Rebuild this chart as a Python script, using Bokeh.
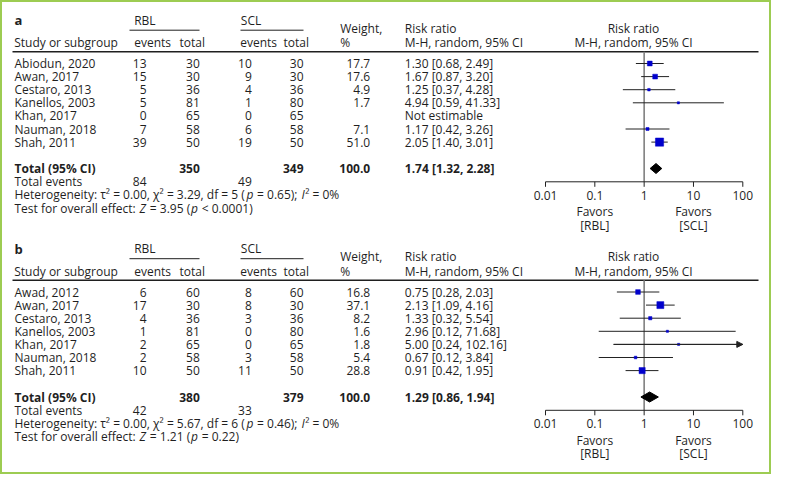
import math
from bokeh.plotting import figure
from bokeh.models import Range1d, LogScale, ColumnDataSource, Arrow, NormalHead
from bokeh.embed import file_html
from bokeh.resources import INLINE
from bokeh.core.properties import value

# ---------------- data ----------------
studies_a = ["Abiodun, 2020", "Awan, 2017", "Cestaro, 2013", "Kanellos, 2003",
             "Khan, 2017", "Nauman, 2018", "Shah, 2011"]
rbl_events_a = [13, 15, 5, 5, 0, 7, 39]
rbl_total_a = [30, 30, 36, 81, 65, 58, 50]
scl_events_a = [10, 9, 4, 1, 0, 6, 19]
scl_total_a = [30, 30, 36, 80, 65, 58, 50]
weight_a = [17.7, 17.6, 4.9, 1.7, None, 7.1, 51.0]
rr_a = [1.30, 1.67, 1.25, 4.94, None, 1.17, 2.05]
lo_a = [0.68, 0.87, 0.37, 0.59, None, 0.42, 1.40]
hi_a = [2.49, 3.20, 4.28, 41.33, None, 3.26, 3.01]
total_a = [350, 349, 100.0]
pooled_a = [1.74, 1.32, 2.28]
events_a = [84, 49]
het_a = ["0.00", "3.29", "5", "= 0.65", "0%"]
test_a = ["3.95", "< 0.0001"]

studies_b = ["Awad, 2012", "Awan, 2017", "Cestaro, 2013", "Kanellos, 2003",
             "Khan, 2017", "Nauman, 2018", "Shah, 2011"]
rbl_events_b = [6, 17, 4, 1, 2, 2, 10]
rbl_total_b = [60, 30, 36, 81, 65, 58, 50]
scl_events_b = [8, 8, 3, 0, 0, 3, 11]
scl_total_b = [60, 30, 36, 80, 65, 58, 50]
weight_b = [16.8, 37.1, 8.2, 1.6, 1.8, 5.4, 28.8]
rr_b = [0.75, 2.13, 1.33, 2.96, 5.00, 0.67, 0.91]
lo_b = [0.28, 1.09, 0.32, 0.12, 0.24, 0.12, 0.42]
hi_b = [2.03, 4.16, 5.54, 71.68, 102.16, 3.84, 1.95]
total_b = [380, 379, 100.0]
pooled_b = [1.29, 0.86, 1.94]
events_b = [42, 33]
het_b = ["0.00", "5.67", "6", "= 0.46", "0%"]
test_b = ["1.21", "= 0.22"]

tick_values = [0.01, 0.1, 1, 10, 100]
tick_labels = ["0.01", "0.1", "1", "10", "100"]

# ---------------- layout ----------------
W, H = 771, 474
FONT = "Open Sans"
FS = "12px"
FSN = 12.0
TXT = "#1f1f1f"
px_lo, px_hi = 553 - 8, 750.3 - 8          # pixel position of 0.01 and 100
dec = (px_hi - px_lo) / 4.0
log_start = -2 - px_lo / dec
log_end = 2 + (W - px_hi) / dec

p = figure(width=W, height=H, output_backend="svg", toolbar_location=None,
           x_range=Range1d(0, W), y_range=Range1d(H, 0),
           min_border=0, background_fill_color="white", border_fill_color="white")
p.extra_x_ranges = {"rr": Range1d(10 ** log_start, 10 ** log_end)}
p.extra_x_scales = {"rr": LogScale()}
p.xaxis.visible = False
p.yaxis.visible = False
p.grid.visible = False
p.outline_line_color = "#9dcc52"
p.outline_line_width = 3

# approximate Open Sans advance widths (units per em = 2048), used to chain text runs
REG_W = {' ': 532, '.': 545, ',': 502, ':': 545, ';': 545, '(': 602, ')': 602, '=': 1171,
         '<': 1171, '%': 1702, '\u00b2': 760, '\u03c4': 1060, '\u03c7': 1090, 'H': 1538,
         'T': 1122, 'Z': 1128, 'I': 559, 'a': 1139, 'c': 975, 'd': 1255, 'e': 1147, 'f': 700,
         'g': 1108, 'i': 518, 'l': 518, 'n': 1257, 'o': 1237, 'p': 1255, 'r': 836, 's': 977,
         't': 717, 'v': 1024, 'y': 1026}
ITA_W = {'p': 1230, 'I': 560, 'Z': 1140}
CAL = 1.0

texts = {}


def T(x, y, s, align="left", style="normal", size=FS, rng="default"):
    key = (align, style, size, rng)
    d = texts.setdefault(key, dict(x=[], y=[], t=[]))
    d["x"].append(x)
    d["y"].append(y)
    d["t"].append(s)


def run_width(s, italic):
    tot = 0
    for ch in s:
        if italic:
            tot += ITA_W.get(ch, REG_W.get(ch, 1171))
        else:
            tot += REG_W.get(ch, 1171)
    return tot / 2048.0 * FSN * CAL


def rich(x, y, parts):
    space = run_width(" ", False)
    for s, italic in parts:
        lead = len(s) - len(s.lstrip(" "))
        trail = len(s) - len(s.rstrip(" "))
        core = s.strip(" ")
        x += lead * space
        if italic:
            x += 0.8
        T(x, y, core, style="italic" if italic else "normal")
        x += run_width(core, italic) + trail * space
        if italic:
            x += 0.4


def X(x):
    return x - 8


def panel(dy, label, studies, rbe, rbt, sce, sct, wt, rr, lo, hi, tot, pooled, ev, het, test):
    def Y(y):
        return y + dy - 8

    # headers
    T(X(22), Y(27.5), label, style="bold", size="13px")
    T(X(141.7), Y(27.7), "RBL")
    T(X(248.3), Y(27.7), "SCL")
    T(X(21.7), Y(50), "Study or subgroup")
    T(X(141.7), Y(50), "events")
    T(X(187), Y(50), "total")
    T(X(247.7), Y(50), "events")
    T(X(291), Y(50), "total")
    T(X(347.7), Y(35.7), "Weight,")
    T(X(347.7), Y(50), "%")
    T(X(412.3), Y(35.7), "Risk ratio")
    T(X(412.3), Y(50), "M-H, random, 95% CI")
    T(X(641), Y(35.7), "Risk ratio", align="center")
    T(X(641), Y(50), "M-H, random, 95% CI", align="center")
    p.segment(x0=[X(137), X(248)], x1=[X(207), X(311)], y0=[Y(37.7)] * 2, y1=[Y(37.7)] * 2,
              line_color=TXT, line_width=1)
    p.segment(x0=[X(20)], x1=[X(766)], y0=[Y(59.3)], y1=[Y(59.3)], line_color=TXT, line_width=1.6)

    # rows
    ys = [Y(71 + 13.1 * i) for i in range(len(studies))]
    for i, s in enumerate(studies):
        y = ys[i]
        T(X(22), y, s)
        T(X(154), y, str(rbe[i]), align="right")
        T(X(207.3), y, str(rbt[i]), align="right")
        T(X(259.3), y, str(sce[i]), align="right")
        T(X(311), y, str(sct[i]), align="right")
        if wt[i] is not None:
            T(X(377.7), y, f"{wt[i]:.1f}", align="right")
            T(X(412.3), y, f"{rr[i]:.2f} [{lo[i]:.2f}, {hi[i]:.2f}]")
        else:
            T(X(412.3), y, "Not estimable")

    # totals
    yt = Y(176)
    T(X(22), yt, "Total (95% CI)", style="bold")
    T(X(207.3), yt, str(tot[0]), align="right", style="bold")
    T(X(311), yt, str(tot[1]), align="right", style="bold")
    T(X(377.7), yt, f"{tot[2]:.1f}", align="right", style="bold")
    T(X(412.3), yt, f"{pooled[0]:.2f} [{pooled[1]:.2f}, {pooled[2]:.2f}]", style="bold")
    T(X(22), Y(189.3), "Total events")
    T(X(154), Y(189.3), str(ev[0]), align="right")
    T(X(259.3), Y(189.3), str(ev[1]), align="right")
    rich(X(22), Y(202.3), [
        (f"Heterogeneity: \u03c4\u00b2 = {het[0]}, \u03c7\u00b2 = {het[1]}, df = {het[2]} (", False),
        ("p", True),
        (f" {het[3]}); ", False),
        ("I", True),
        (f"\u00b2 = {het[4]}", False),
    ])
    rich(X(22), Y(215.5), [
        ("Test for overall effect: ", False),
        ("Z", True),
        (f" = {test[0]} (", False),
        ("p", True),
        (f" {test[1]})", False),
    ])

    # forest: reference line
    p.segment(x0=[1], x1=[1], y0=[Y(59.3)], y1=[Y(189.3)], x_range_name="rr",
              line_color="#808080", line_width=1.6)
    # CIs
    idx = [i for i in range(len(rr)) if rr[i] is not None]
    ci_src = ColumnDataSource(dict(
        lo=[lo[i] for i in idx],
        hi=[min(hi[i], tick_values[-1]) for i in idx],
        rr=[rr[i] for i in idx],
        y=[ys[i] for i in idx],
        size=[max(2.2, 8.2 * math.sqrt(wt[i] / 51.0)) for i in idx],
    ))
    p.segment(x0="lo", x1="hi", y0="y", y1="y", source=ci_src, x_range_name="rr",
              line_color="#222222", line_width=1)
    p.scatter(x="rr", y="y", size="size", marker="square", source=ci_src, x_range_name="rr",
              fill_color="#0000cc", line_color="#0000cc", line_width=0.5)
    for i in idx:
        if hi[i] > tick_values[-1]:
            p.add_layout(Arrow(x_start=lo[i], y_start=ys[i], x_end=tick_values[-1], y_end=ys[i],
                               x_range_name="rr", line_color="#222222", line_width=1,
                               end=NormalHead(size=6, fill_color="#222222", line_color="#222222")))
    # diamond
    h = 5.0
    p.patch(x=[pooled[1], pooled[0], pooled[2], pooled[0]], y=[yt, yt - h, yt, yt + h],
            x_range_name="rr", fill_color="#000000", line_color="#000000", line_width=1)
    # axis
    ya = Y(189.3)
    p.segment(x0=[tick_values[0]], x1=[tick_values[-1]], y0=[ya], y1=[ya], x_range_name="rr",
              line_color="#222222", line_width=1)
    p.segment(x0=tick_values, x1=tick_values, y0=[ya] * 5, y1=[ya + 5] * 5, x_range_name="rr",
              line_color="#222222", line_width=1)
    for tv, tl in zip(tick_values, tick_labels):
        T(tv, Y(202.7), tl, align="center", rng="rr")
    T(tick_values[1], Y(219.3), "Favors", align="center", rng="rr")
    T(tick_values[1], Y(232.7), "[RBL]", align="center", rng="rr")
    T(tick_values[3], Y(219.3), "Favors", align="center", rng="rr")
    T(tick_values[3], Y(232.7), "[SCL]", align="center", rng="rr")


panel(0, "a", studies_a, rbl_events_a, rbl_total_a, scl_events_a, scl_total_a, weight_a,
      rr_a, lo_a, hi_a, total_a, pooled_a, events_a, het_a, test_a)
panel(228.5, "b", studies_b, rbl_events_b, rbl_total_b, scl_events_b, scl_total_b, weight_b,
      rr_b, lo_b, hi_b, total_b, pooled_b, events_b, het_b, test_b)

for (align, style, size, rng), d in texts.items():
    src = ColumnDataSource(d)
    p.text(x="x", y="y", text="t", source=src, x_range_name=rng,
           text_align=align, text_baseline="middle",
           text_font=value(FONT), text_font_size=value(size),
           text_font_style=style, text_color=TXT)

open("out.html", "w").write(file_html(p, INLINE))
